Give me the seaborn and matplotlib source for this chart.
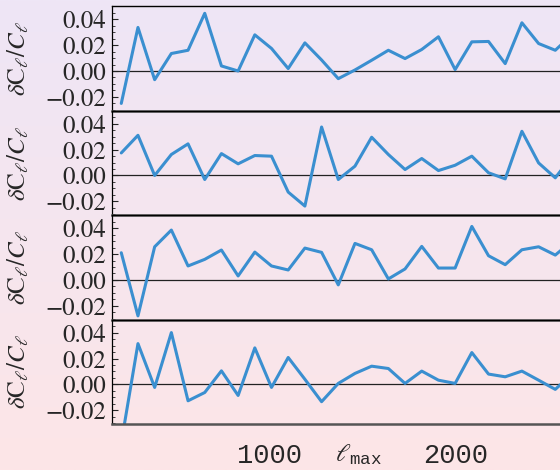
import numpy as np
import pandas as pd
import matplotlib
matplotlib.use("Agg")
import matplotlib.pyplot as plt
from matplotlib.colors import LinearSegmentedColormap
from matplotlib.ticker import MultipleLocator
import seaborn as sns

# l_max values (common to all panels)
ell_max = [200, 290, 380, 470, 560, 650, 740, 830, 920, 1010,
           1100, 1190, 1280, 1370, 1460, 1550, 1640, 1730, 1820, 1910,
           2000, 2090, 2180, 2270, 2360, 2450, 2540, 2630, 2720, 2810]

dcl_1 = [-0.025, 0.0336, -0.0067, 0.0135, 0.016, 0.0445, 0.0039, 0.0, 0.0279, 0.0174,
         0.0019, 0.0217, 0.0085, -0.0059, 0.0008, 0.0083, 0.016, 0.0096, 0.0166, 0.0264,
         0.0011, 0.0225, 0.0228, 0.0057, 0.0372, 0.0212, 0.016, 0.028, 0.02, 0.015]
dcl_2 = [0.0174, 0.031, 0.0, 0.0162, 0.0244, -0.0031, 0.0169, 0.009, 0.0154, 0.0149,
         -0.0128, -0.0236, 0.0374, -0.0031, 0.0072, 0.0295, 0.0162, 0.0046, 0.0131, 0.0038,
         0.0079, 0.0149, 0.0021, -0.0026, 0.0341, 0.0097, -0.0018, 0.015, 0.01, 0.02]
dcl_3 = [0.021, -0.0277, 0.0256, 0.0385, 0.0108, 0.0159, 0.0231, 0.0031, 0.0215, 0.0108,
         0.0077, 0.0246, 0.0213, -0.0038, 0.0282, 0.0233, 0.0008, 0.0085, 0.0259, 0.0092,
         0.0092, 0.0413, 0.0187, 0.0118, 0.0233, 0.0256, 0.0192, 0.03, 0.02, 0.025]
dcl_4 = [-0.045, 0.0315, -0.0023, 0.04, -0.0126, -0.0062, 0.0105, -0.0085, 0.0282, -0.0023,
         0.0208, 0.004, -0.0133, 0.0008, 0.0085, 0.0141, 0.0123, 0.0008, 0.0103, 0.0033,
         0.0008, 0.0246, 0.008, 0.0059, 0.0103, 0.0033, -0.0038, 0.008, 0.005, 0.01]

yticks = [-0.02, 0.0, 0.02, 0.04]
ytick_labels = ["\u22120.02", "0.00", "0.02", "0.04"]
xticks = [1000, 2000]
xtick_labels = ["1000", "2000"]

sns.set_style("ticks")
plt.rcParams["font.family"] = ["STIXGeneral", "DejaVu Serif"]
plt.rcParams["mathtext.fontset"] = "custom"
plt.rcParams["mathtext.rm"] = "STIXGeneral"
plt.rcParams["mathtext.it"] = "STIXGeneral:italic"
plt.rcParams["mathtext.bf"] = "STIXGeneral:bold"
plt.rcParams["mathtext.tt"] = "Liberation Mono"

fig = plt.figure(figsize=(5.6, 4.7), dpi=100)

# gradient background
bg = fig.add_axes([0, 0, 1, 1], zorder=-10)
cmap = LinearSegmentedColormap.from_list("bg", ["#eee6f6", "#fde5e7"])
bg.imshow(np.linspace(0, 1, 256).reshape(-1, 1), aspect="auto", cmap=cmap,
          extent=[0, 1, 0, 1])
bg.axis("off")

series = [dcl_1, dcl_2, dcl_3, dcl_4]
left, width = 0.2, 0.882
bottom, h = 0.0979, 0.2223

for i, vals in enumerate(series):
    ax = fig.add_axes([left, bottom + (3 - i) * h, width, h])
    ax.set_facecolor("none")
    df = pd.DataFrame({"ell": ell_max, "dcl": vals})
    ax.axhline(0, color="#222222", lw=0.9, zorder=1)
    sns.lineplot(data=df, x="ell", y="dcl", ax=ax, color="#3a8fd0", lw=2.2, zorder=2)
    ax.set_xlim(150, 2813)
    ax.set_ylim(-0.0305, 0.0501)
    ax.set_yticks(yticks, ytick_labels)
    ax.yaxis.set_minor_locator(MultipleLocator(0.005))
    ax.tick_params(axis="y", which="major", direction="in", length=4, width=0.8,
                   labelsize=18, pad=4)
    ax.tick_params(axis="y", which="minor", direction="in", length=2.2, width=0.6)
    ax.set_ylabel(r"$\delta\mathrm{C}_\ell/C_\ell$", fontsize=18)
    ax.yaxis.set_label_coords(-0.162, 0.5)
    ax.spines["top"].set_color("black")
    ax.spines["top"].set_linewidth(1.0)
    ax.spines["bottom"].set_color("#555555")
    ax.spines["bottom"].set_linewidth(1.8)
    ax.spines["left"].set_linewidth(0.9)
    ax.spines["left"].set_color("black")
    ax.spines["right"].set_visible(False)
    ax.set_xticks(xticks, xtick_labels)
    ax.tick_params(axis="x", length=0, pad=14)
    if i < 3:
        ax.tick_params(axis="x", labelbottom=False)
        ax.set_xlabel("")
    else:
        for lab in ax.get_xticklabels():
            lab.set_fontfamily("Liberation Mono")
            lab.set_fontsize(19.5)
        ax.set_xlabel(r"$\ell_{\mathtt{max}}$", fontsize=18)
        ax.xaxis.set_label_coords(0.5, -0.19)

fig.savefig("out.png", dpi=100)
